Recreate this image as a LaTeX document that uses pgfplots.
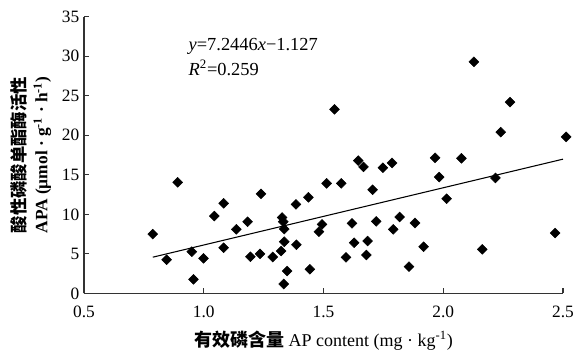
\documentclass[border=0pt]{standalone}
\usepackage{fontspec}
\setmainfont{Liberation Serif}
\newfontfamily\cjk{Noto Sans CJK SC}
\usepackage{pgfplots}
\pgfplotsset{compat=1.18}
\begin{document}
\begin{tikzpicture}[x=1pt,y=1pt]
\useasboundingbox (-63,-42.5) rectangle (369.75,220);
\begin{axis}[
  at={(0,0)}, anchor=south west,
  scale only axis, width=359.25pt, height=207.4pt,
  xmin=0.5, xmax=2.5, ymin=0, ymax=35,
  axis x line=bottom, axis y line=left,
  axis line style={-, line width=1pt, black!80},
  tick align=inside, major tick length=3.75pt,
  tick style={line width=0.8pt, black!80},
  xtick={0.5,1,1.5,2,2.5}, ytick={0,5,...,35},
  xticklabel style={/pgf/number format/fixed, /pgf/number format/fixed zerofill, /pgf/number format/precision=1, yshift=-6pt},
  /pgf/number format/assume math mode=true,
  ticklabel style={font=\fontsize{13}{15}\selectfont},
  clip=false,
  xlabel={{\cjk\bfseries 有效磷含量} AP content (mg · kg\textsuperscript{-1})},
  xlabel style={font=\fontsize{13.5}{15}\selectfont, at={(axis description cs:0.5,0)}, anchor=center, yshift=-35.5pt},
  ylabel={{\cjk\bfseries 酸性磷酸单酯酶活性}\\\textbf{APA (µmol · g\textsuperscript{-1} · h\textsuperscript{-1})}},
  ylabel style={font=\fontsize{13}{16.5}\selectfont, align=center, at={(axis description cs:-0.111,0.5)}, anchor=center},
]
\addplot[only marks, mark=square*, mark size=2.6pt, mark options={rotate=45, fill=black, draw=black}] coordinates {
(0.787,7.5) (0.845,4.25) (0.891,14.05) (0.950,5.27) (0.957,1.77) (0.999,4.43)
(1.044,9.78) (1.083,11.39) (1.083,5.77) (1.136,8.1) (1.183,9.06) (1.195,4.63)
(1.235,5.0) (1.239,12.6) (1.288,4.6) (1.323,5.35) (1.327,9.6) (1.332,9.06)
(1.336,8.14) (1.336,6.53) (1.348,2.82) (1.334,1.18) (1.385,11.26) (1.387,6.15)
(1.437,12.15) (1.443,3.04) (1.481,7.8) (1.494,8.73) (1.513,13.92) (1.546,23.29)
(1.574,13.92) (1.594,4.56) (1.619,8.86) (1.628,6.41) (1.645,16.8) (1.667,16.0)
(1.679,4.85) (1.684,6.62) (1.705,13.11) (1.720,9.11) (1.748,15.9) (1.786,16.5)
(1.791,8.1) (1.818,9.66) (1.857,3.37) (1.882,8.9) (1.918,5.9) (1.966,17.15)
(1.983,14.72) (2.014,11.98) (2.076,17.09) (2.128,29.3) (2.163,5.57) (2.218,14.6)
(2.240,20.4) (2.279,24.2) (2.467,7.63) (2.513,19.8)
};
\addplot[black, line width=0.8pt] coordinates {(0.787,4.575) (2.50,16.984)};
\node[anchor=west, font=\fontsize{13.8}{15}\selectfont, inner sep=0pt] at (axis cs:0.936,31.2) {\textit{y}=7.2446\textit{x}−1.127};
\node[anchor=west, font=\fontsize{13.8}{15}\selectfont, inner sep=0pt] at (axis cs:0.936,28.5) {\textit{R}\textsuperscript{2}=0.259};
\end{axis}
\end{tikzpicture}
\end{document}
